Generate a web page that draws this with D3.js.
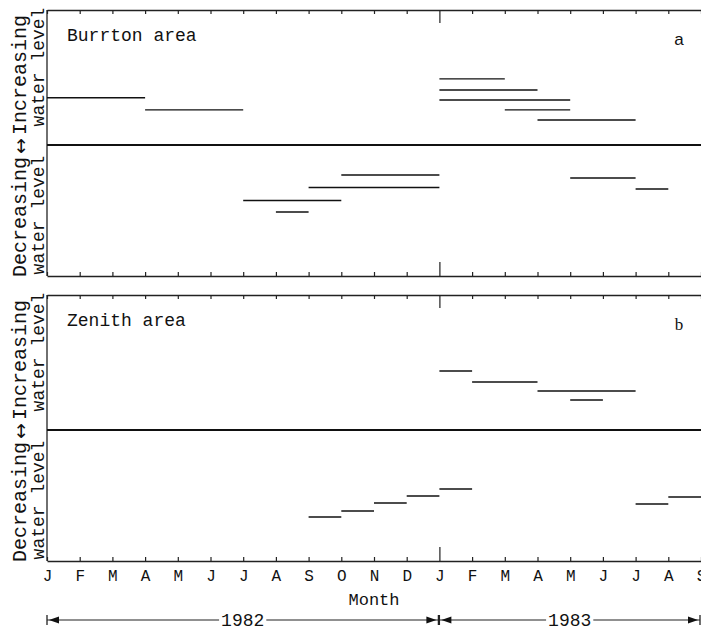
<!DOCTYPE html>
<html>
<head>
<meta charset="utf-8">
<script src="https://cdn.jsdelivr.net/npm/d3@7"></script>
<style>
  body { margin: 0; background: #fff; }
  text { font-family: "Liberation Mono", "DejaVu Sans Mono", monospace; fill: #111; }
</style>
</head>
<body>
<svg id="chart" width="701" height="630"></svg>
<script>
    // month 0 = January 1982, month 20 = September 1983
    var monthLabels = ["J","F","M","A","M","J","J","A","S","O","N","D","J","F","M","A","M","J","J","A","S"];
    var yearLabels = ["1982", "1983"];
    var yearStarts = [0, 12];
    var yearEnds = [12, 20];

    // each segment: [start month, end month, relative water level]
    var burrtonUp = [[0,3,3.5],[3,6,2.6],[12,14,4.9],[12,15,4.07],[12,16,3.33],[14,16,2.6],[15,18,1.85]];
    var burrtonDown = [[6,9,-4.24],[7,8,-5.11],[8,12,-3.24],[9,12,-2.29],[16,18,-2.52],[18,19,-3.36]];
    var zenithUp = [[12,13,4.37],[13,15,3.56],[15,18,2.89],[16,17,2.22]];
    var zenithDown = [[8,9,-6.64],[9,10,-6.18],[10,11,-5.57],[11,12,-5.04],[12,13,-4.5],[18,19,-5.65],[19,20,-5.11]];

    var panels = [
      {name: "Burrton area", tag: "a", tagFont: "Liberation Sans", top: 10, mid: 145, bottom: 276, segs: burrtonUp.concat(burrtonDown), labels: false},
      {name: "Zenith area", tag: "b", tagFont: "Liberation Serif", top: 295, mid: 430, bottom: 561, segs: zenithUp.concat(zenithDown), labels: true}
    ];

    var svg = d3.select("#chart");
    var xScale = d3.scaleLinear().domain([0, 20]).range([47, 701]);
    var ticks = d3.range(monthLabels.length);

    panels.forEach(function(p) {
      var yScale = d3.scaleLinear().domain([-10, 0, 10]).range([p.bottom, p.mid, p.top]);
      var g = svg.append("g");

      // top axis, ticks pointing in
      var top = g.append("g")
        .attr("transform", "translate(0," + p.top + ")")
        .call(d3.axisTop(xScale).tickValues(ticks).tickSize(-4).tickSizeOuter(0).tickFormat(""));
      top.selectAll(".tick line").filter(d => d === 12).attr("y2", 13);

      // bottom axis
      var bottom = g.append("g")
        .attr("transform", "translate(0," + p.bottom + ")")
        .call(d3.axisBottom(xScale).tickValues(ticks).tickSize(-4).tickSizeOuter(0).tickPadding(9)
          .tickFormat(p.labels ? (d => monthLabels[d]) : ""));
      bottom.selectAll(".tick line").filter(d => d === 12).attr("y2", -14);
      bottom.selectAll("text")
        .attr("font-family", "Liberation Mono, monospace")
        .attr("font-size", 16)
        .attr("fill", "#111");
      g.selectAll(".domain").attr("stroke", "#222").attr("stroke-width", 1.3);
      g.selectAll(".tick line").attr("stroke", "#222").attr("stroke-width", 1.2);

      // left axis
      g.append("line")
        .attr("x1", xScale(0)).attr("x2", xScale(0))
        .attr("y1", p.top).attr("y2", p.bottom)
        .attr("stroke", "#222").attr("stroke-width", 1.3);

      // zero line
      g.append("line")
        .attr("x1", xScale(0)).attr("x2", xScale(20))
        .attr("y1", yScale(0)).attr("y2", yScale(0))
        .attr("stroke", "#111").attr("stroke-width", 1.8);

      // segments
      g.selectAll(".seg").data(p.segs).enter().append("line")
        .attr("class", "seg")
        .attr("x1", d => xScale(d[0]))
        .attr("x2", d => xScale(d[1]))
        .attr("y1", d => yScale(d[2]))
        .attr("y2", d => yScale(d[2]))
        .attr("stroke", "#111")
        .attr("stroke-width", 1.4);

      // panel titles
      g.append("text")
        .attr("x", 67).attr("y", p.top + 31)
        .attr("font-size", 18)
        .text(p.name);
      g.append("text")
        .attr("x", 679).attr("y", p.top + 35)
        .attr("text-anchor", "middle")
        .attr("font-size", 17)
        .style("font-family", p.tagFont)
        .text(p.tag);

      // y labels
      var lbl = g.append("g").attr("font-size", 20);
      lbl.append("text")
        .attr("transform", "translate(26," + (p.mid - 10) + ") rotate(-90)")
        .text("Increasing");
      lbl.append("text")
        .attr("transform", "translate(27," + (p.mid + 1) + ") rotate(-90)")
        .attr("text-anchor", "middle")
        .style("font-family", "DejaVu Sans")
        .attr("font-size", 19)
        .text("\u2194");
      lbl.append("text")
        .attr("transform", "translate(26," + (p.bottom + 1) + ") rotate(-90)")
        .text("Decreasing");
      lbl.append("text")
        .attr("transform", "translate(44," + (p.mid - 78) + ") rotate(-90)")
        .attr("text-anchor", "middle")
        .attr("font-size", 18)
        .text("water level");
      lbl.append("text")
        .attr("transform", "translate(44," + (p.mid + 70) + ") rotate(-90)")
        .attr("text-anchor", "middle")
        .attr("font-size", 18)
        .text("water level");
    });

    svg.append("text")
      .attr("x", (xScale(0) + xScale(20)) / 2).attr("y", 605)
      .attr("text-anchor", "middle")
      .attr("font-size", 17)
      .text("Month");

    // year brackets
    var yy = 620;
    yearLabels.forEach(function(label, i) {
      var xa = xScale(yearStarts[i]), xb = xScale(yearEnds[i]) - 1;
      var g = svg.append("g");
      var t = g.append("text")
        .attr("x", (xa + xb) / 2).attr("y", yy + 6)
        .attr("text-anchor", "middle")
        .attr("font-size", 18)
        .text(label);
      var w = t.node().getComputedTextLength();
      var tl = (xa + xb) / 2 - w / 2 - 2, tr = (xa + xb) / 2 + w / 2 + 2;
      g.append("line").attr("x1", xa).attr("x2", tl).attr("y1", yy).attr("y2", yy)
        .attr("stroke", "#222").attr("stroke-width", 1.2);
      g.append("line").attr("x1", tr).attr("x2", xb).attr("y1", yy).attr("y2", yy)
        .attr("stroke", "#222").attr("stroke-width", 1.2);
      [xa, xb].forEach(function(xx, j) {
        g.append("line").attr("x1", xx).attr("x2", xx).attr("y1", yy - 5).attr("y2", yy + 5)
          .attr("stroke", "#222").attr("stroke-width", 1.3);
        var dir = j === 0 ? 1 : -1;
        var tip = xx + dir * 2;
        g.append("path")
          .attr("d", "M" + tip + "," + yy + "L" + (tip + dir * 10) + "," + (yy - 3.5) + "L" + (tip + dir * 10) + "," + (yy + 3.5) + "Z")
          .attr("fill", "#111");
      });
    });
</script>
</body>
</html>
